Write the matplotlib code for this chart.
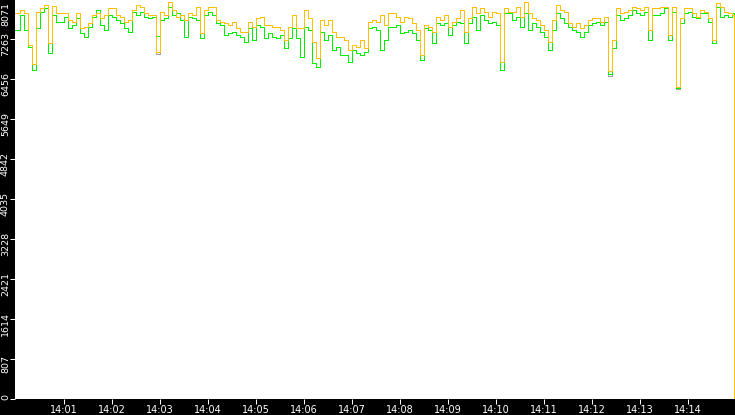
import numpy as np
import matplotlib
matplotlib.use("Agg")
import matplotlib.pyplot as plt
import matplotlib.transforms as mtransforms

# ---- data ----
# one sample every 5 seconds from 14:00:00, plus the final drop just before 14:15
seconds = [5 * k for k in range(180)] + [898]

orange = [
    7789, 7849, 7789, 7143, 6759, 7809, 7889, 7950, 7183, 7930, 7789, 7789, 7789, 7647, 7607,
    7789, 7486, 7506, 7587, 7748, 7789, 7688, 7748, 7889, 7889, 7748, 7708, 7607, 7647, 7849,
    7950, 7910, 7789, 7748, 7748, 7002, 7809, 7748, 8011, 7849, 7708, 7748, 7647, 7789, 7748,
    7910, 7385, 7849, 7910, 7910, 7647, 7607, 7587, 7546, 7607, 7486, 7405, 7405, 7607, 7506,
    7688, 7708, 7546, 7546, 7506, 7506, 7446, 7244, 7506, 7748, 7486, 7486, 7849, 7688, 7203,
    6881, 7647, 7546, 7647, 7405, 7304, 7304, 7244, 7042, 7143, 7102, 7244, 7082, 7607, 7647,
    7607, 7748, 7546, 7789, 7789, 7708, 7607, 7708, 7688, 7587, 7446, 6941, 7546, 7506, 7405,
    7708, 7647, 7748, 7506, 7607, 7688, 7849, 7405, 7688, 7910, 7789, 7889, 7809, 7708, 7809,
    7789, 6800, 7889, 7809, 7809, 7910, 7708, 8011, 7789, 7688, 7647, 7546, 7446, 7203, 7647,
    7950, 7849, 7809, 7587, 7506, 7587, 7486, 7546, 7647, 7688, 7688, 7607, 7708, 6618, 7244,
    7889, 7789, 7809, 7849, 7910, 7889, 7849, 7910, 7446, 7889, 7889, 7910, 7910, 7345, 7910,
    6295, 7688, 7889, 7889, 7789, 7708, 7849, 7809, 7688, 7244, 7990, 7910, 7809, 7789, 7748,
    0,
]

green = [
    7446, 7748, 7446, 7102, 6638, 7486, 7809, 7889, 6981, 7748, 7607, 7607, 7708, 7486, 7546,
    7688, 7385, 7304, 7506, 7708, 7849, 7546, 7446, 7748, 7708, 7647, 7587, 7486, 7405, 7809,
    7748, 7809, 7708, 7688, 7708, 7324, 7647, 7688, 7910, 7748, 7789, 7647, 7304, 7708, 7688,
    7647, 7284, 7748, 7809, 7748, 7587, 7546, 7345, 7385, 7405, 7345, 7304, 7203, 7486, 7244,
    7546, 7506, 7284, 7385, 7304, 7284, 7345, 7082, 7284, 7486, 7284, 6901, 7506, 7446, 6780,
    6699, 7405, 7244, 7345, 7042, 7102, 6941, 6941, 6800, 7042, 6981, 6941, 7002, 7486, 7506,
    7446, 7042, 7244, 7506, 7506, 7546, 7385, 7405, 7446, 7385, 7244, 6840, 7486, 7446, 7183,
    7587, 7546, 7587, 7345, 7546, 7607, 7587, 7183, 7587, 7708, 7446, 7748, 7647, 7587, 7607,
    7546, 6638, 7789, 7789, 7647, 7708, 7506, 7789, 7446, 7587, 7506, 7405, 7304, 7042, 7446,
    7789, 7688, 7587, 7506, 7446, 7405, 7304, 7405, 7546, 7587, 7607, 7546, 7607, 6558, 7082,
    7748, 7647, 7688, 7748, 7849, 7789, 7748, 7809, 7244, 7748, 7748, 7789, 7889, 7244, 7809,
    6275, 7587, 7789, 7809, 7708, 7688, 7789, 7789, 7607, 7183, 7910, 7708, 7748, 7708, 7789,
    3854,
]

gray = [
    7446, 7748, 7446, 7102, 6638, 7486, 7809, 7889, 6981, 7748, 7607, 7607, 7708, 7486, 7546,
    7688, 7385, 7304, 7506, 7708, 7849, 7546, 7446, 7748, 7708, 7647, 7587, 7486, 7405, 7809,
    7748, 7809, 7708, 7688, 7708, 6961, 7647, 7688, 7910, 7748, 7789, 7647, 7304, 7708, 7688,
    7647, 7284, 7748, 7809, 7748, 7587, 7546, 7345, 7385, 7405, 7345, 7304, 7203, 7486, 7244,
    7546, 7506, 7284, 7385, 7304, 7284, 7345, 7082, 7284, 7486, 7284, 6901, 7506, 7446, 6780,
    6699, 7405, 7244, 7345, 7042, 7102, 6941, 6941, 6800, 7042, 6981, 6941, 7002, 7486, 7506,
    7446, 7042, 7244, 7506, 7506, 7546, 7385, 7405, 7446, 7385, 7244, 6840, 7486, 7446, 7183,
    7587, 7546, 7587, 7345, 7546, 7607, 7587, 7183, 7587, 7708, 7446, 7748, 7647, 7587, 7607,
    7546, 6638, 7789, 7789, 7647, 7708, 7506, 7789, 7446, 7587, 7506, 7405, 7304, 7042, 7446,
    7789, 7688, 7587, 7506, 7446, 7405, 7304, 7405, 7546, 7587, 7607, 7546, 7607, 6517, 7082,
    7748, 7647, 7688, 7748, 7849, 7789, 7748, 7809, 7244, 7748, 7748, 7789, 7889, 7244, 7809,
    6255, 7587, 7789, 7809, 7708, 7688, 7789, 7789, 7607, 7183, 7910, 7708, 7748, 7708, 7789,
    3874,
]

x_tick_seconds = [60, 120, 180, 240, 300, 360, 420, 480, 540, 600, 660, 720, 780, 840]
x_tick_labels = ["14:01", "14:02", "14:03", "14:04", "14:05", "14:06", "14:07",
                 "14:08", "14:09", "14:10", "14:11", "14:12", "14:13", "14:14"]
y_tick_values = [0, 807, 1614, 2421, 3228, 4035, 4842, 5649, 6456, 7263, 8071]
y_tick_labels = ["0", "807", "1614", "2421", "3228", "4035", "4842", "5649", "6456", "7263", "8071"]

# ---- figure ----
W, H, DPI = 735, 415, 100
fig = plt.figure(figsize=(W / DPI, H / DPI), dpi=DPI, facecolor="black")
ax = fig.add_axes([15 / W, 16 / H, 720 / W, 400 / H])
ax.set_facecolor("white")
# half-pixel shift so vertical steps fall on pixel centres (crisp 1-px lines)
half_px = 900 / 720 / 2
ax.set_xlim(-half_px, 900 - half_px)
ax.set_ylim(0, 8071)
for s in ax.spines.values():
    s.set_visible(False)

common = dict(lw=0.72, drawstyle="steps-post", antialiased=False, solid_joinstyle="miter",
              solid_capstyle="projecting")
ax.plot(seconds, gray, color="#a0a0a0", **common)
ax.plot(seconds, green, color="#00ee00", **common)
ax.plot(seconds, orange, color="#ffc000", **common)

ax.set_xticks(x_tick_seconds, labels=x_tick_labels)
ax.set_yticks(y_tick_values)
ax.tick_params(axis="both", direction="out", length=3.6, width=0.75, color="white")
ax.tick_params(axis="x", labelcolor="white", labelsize=7, pad=1.0)
ax.tick_params(axis="y", labelleft=False)

# rotated y labels, placed in the black strip at each tick
blend = mtransforms.blended_transform_factory(fig.dpi_scale_trans, ax.transData)
n = len(y_tick_values)
for i, (v, lab) in enumerate(zip(y_tick_values, y_tick_labels)):
    if i == 0:
        off, va = -1, "bottom"
    elif i == n - 1:
        off, va = -3, "top"
    else:
        off, va = -5, "center"
    tr = blend + mtransforms.ScaledTranslation(0, off / DPI, fig.dpi_scale_trans)
    ax.text(1 / DPI, v, lab, transform=tr, rotation=90, ha="left", va=va,
            color="white", fontsize=6.8, clip_on=False)

fig.savefig("out.png", dpi=DPI, facecolor="black")
